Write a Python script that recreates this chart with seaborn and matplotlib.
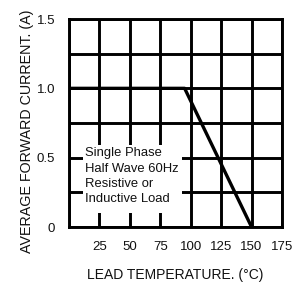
import matplotlib
matplotlib.use("Agg")
import matplotlib.pyplot as plt
import seaborn as sns
import pandas as pd
from matplotlib.patches import Rectangle

sns.set_style("white")
plt.rcParams['font.family'] = ['Liberation Sans', 'DejaVu Sans']

# Data
lead_temp = [0, 95, 150]
avg_current = [1.0, 1.0, 0.0]
x_ticks = [25, 50, 75, 100, 125, 150, 175]
y_ticks = [0, 0.5, 1.0, 1.5]
y_tick_labels = ["0", "0.5", "1.0", "1.5"]
x_grid = [0, 25, 50, 75, 100, 125, 150, 175]
y_grid = [0, 0.25, 0.5, 0.75, 1.0, 1.25, 1.5]
note_lines = ["Single Phase", "Half Wave 60Hz", "Resistive or", "Inductive Load"]

df = pd.DataFrame({"temp": lead_temp, "current": avg_current})

fig = plt.figure(figsize=(2.99, 2.89), dpi=100)
ax = fig.add_axes([69/299, 1-227/289, 213/299, 208/289])

lw = 2.1
for gx in x_grid:
    ax.axvline(gx, color="black", lw=lw, zorder=1)
for gy in y_grid:
    ax.axhline(gy, color="black", lw=lw, zorder=1)

ax.add_patch(Rectangle((11.5, 0.10), 81.5, 0.49, facecolor="white",
                       edgecolor="none", zorder=2))

sns.lineplot(data=df, x="temp", y="current", color="black", lw=2.4,
             ax=ax, zorder=3)

ax.text(13, 0.575, "\n".join(note_lines), ha="left", va="top",
        fontsize=9.4, linespacing=1.37, color="#111111", zorder=4)

ax.set_xlim(0, 175)
ax.set_ylim(0, 1.5)
ax.set_xticks(x_ticks)
ax.set_yticks(y_ticks)
ax.set_yticklabels(y_tick_labels)
ax.tick_params(axis="both", length=0, labelsize=9.5, colors="#111111")
ax.tick_params(axis="x", pad=10)
ax.tick_params(axis="y", pad=10)
for s in ax.spines.values():
    s.set_visible(True)
    s.set_color("black")
    s.set_linewidth(lw)
    s.set_zorder(5)

ax.set_xlabel("LEAD TEMPERATURE. (°C)", fontsize=10, labelpad=11, color="#111111")
ax.set_ylabel("AVERAGE FORWARD CURRENT. (A)", fontsize=10.3, color="#111111")
ax.yaxis.set_label_coords(-0.165, 0.46)

fig.savefig("out.png", dpi=100)
